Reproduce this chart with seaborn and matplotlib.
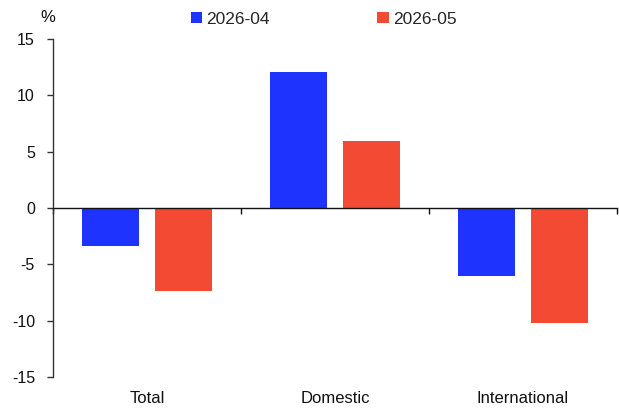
import matplotlib
matplotlib.use("Agg")
import matplotlib.pyplot as plt
from matplotlib.patches import Patch
from matplotlib.ticker import FixedLocator, NullFormatter
import seaborn as sns
import pandas as pd

# Month-on-month change by segment, %
categories = ["Total", "Domestic", "International"]
series_names = ["2026-04", "2026-05"]
values_apr = [-3.4, 12.1, -6.0]
values_may = [-7.4, 6.0, -10.2]
colors = ["#1F33FF", "#F24A33"]
yticks = [-15, -10, -5, 0, 5, 10, 15]

df = pd.DataFrame({
    "segment": categories * 2,
    "month": [series_names[0]] * 3 + [series_names[1]] * 3,
    "change": values_apr + values_may,
})

sns.set_theme(style="white")
plt.rcParams["font.family"] = ["Liberation Sans", "DejaVu Sans"]
plt.rcParams["font.size"] = 11

fig = plt.figure(figsize=(6.19, 4.08), dpi=100)
ax = fig.add_axes([0.0856, 0.076, 0.911, 0.828])

sns.barplot(data=df, x="segment", y="change", hue="month", order=categories,
            hue_order=series_names, palette=colors, width=0.78, gap=0.22,
            linewidth=0, saturation=1, legend=False, ax=ax)

ax.set_ylim(-15, 15)
ax.set_xlim(-0.5, len(categories) - 0.5)
ax.set_yticks(yticks)
ax.set_yticklabels([str(v) for v in yticks], fontsize=11.5, color="#111111")
ax.set_xlabel("")
ax.set_ylabel("")

# Spines: left axis plus a baseline at zero
for side in ["top", "right"]:
    ax.spines[side].set_visible(False)
ax.spines["left"].set_color("#333333")
ax.spines["left"].set_linewidth(1.0)
ax.spines["bottom"].set_position(("data", 0))
ax.spines["bottom"].set_color("#111111")
ax.spines["bottom"].set_linewidth(1.0)

ax.tick_params(axis="y", direction="out", length=4, width=1, color="#333333",
               left=True, pad=9)
# Category boundary ticks on the zero line
ax.xaxis.set_major_locator(FixedLocator([-0.5, 0.5, 1.5, 2.5]))
ax.xaxis.set_major_formatter(NullFormatter())
ax.tick_params(axis="x", direction="out", length=4, width=1, color="#111111",
               bottom=True)

# Category names along the bottom of the panel
for i, name in enumerate(categories):
    ax.text(i, -0.064, name, transform=ax.get_xaxis_transform(),
            ha="center", va="center", fontsize=12, color="#111111")

fig.text(48 / 619, 1 - 18 / 408, "%", ha="center", va="center",
         fontsize=12, color="#111111")

handles = [Patch(facecolor=c, edgecolor="none") for c in colors]
fig.legend(handles, series_names, loc="center", ncol=2,
           bbox_to_anchor=(0.523, 1 - 19 / 408), frameon=False,
           handlelength=0.65, handleheight=0.65, handletextpad=0.25,
           columnspacing=6.2, fontsize=12.5)

fig.savefig("out.png", dpi=100)
